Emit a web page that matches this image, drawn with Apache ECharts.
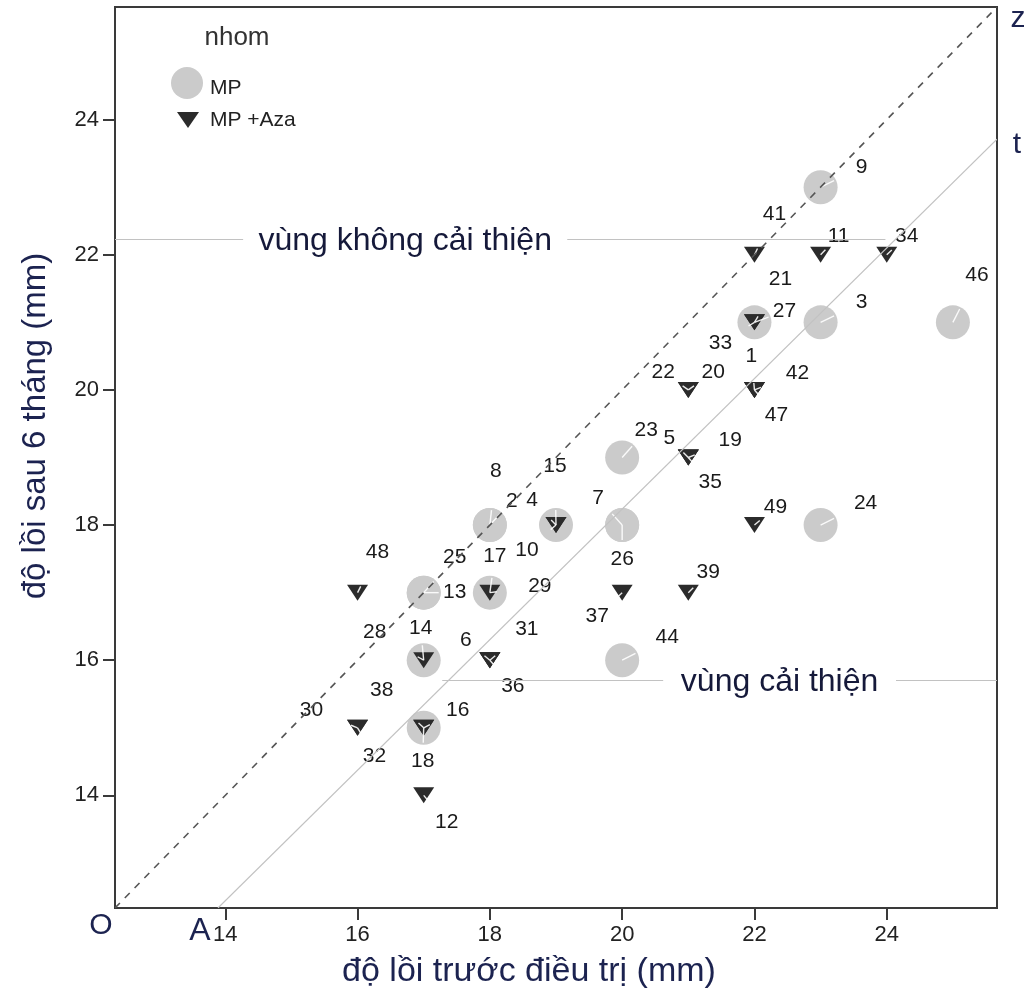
<!DOCTYPE html>
<html>
<head>
<meta charset="utf-8">
<script src="https://cdn.jsdelivr.net/npm/echarts@6/dist/echarts.min.js"></script>
<style>
  html, body { margin: 0; padding: 0; background: #ffffff; }
  #chart { width: 1029px; height: 995px; }
</style>
</head>
<body>
<div id="chart"></div>
<script>
// Patients treated with MP alone: id, protrusion before treatment, after 6 months (mm)
const mpIds    = [9, 27, 3, 46, 23, 8, 2, 15, 7, 26, 24, 25, 13, 17, 14, 18, 44];
const mpBefore = [23, 22, 23, 25, 20, 18, 18, 19, 20, 20, 23, 17, 17, 18, 17, 17, 20];
const mpAfter  = [23, 21, 21, 21, 19, 18, 18, 18, 18, 18, 18, 17, 17, 17, 16, 15, 16];

// Patients treated with MP + Aza
const azaIds    = [41, 11, 34, 21, 33, 1, 42, 47, 22, 20, 5, 19, 35, 4, 10, 49, 39, 37, 48, 29, 6, 31, 36, 28, 16, 38, 30, 32, 12];
const azaBefore = [22, 23, 24, 22, 22, 22, 22, 22, 21, 21, 21, 21, 21, 19, 19, 22, 21, 20, 16, 18, 18, 18, 18, 17, 17, 17, 16, 16, 17];
const azaAfter  = [22, 22, 22, 21, 21, 20, 20, 20, 20, 20, 19, 19, 19, 18, 18, 18, 17, 17, 17, 17, 16, 16, 16, 16, 15, 15, 15, 15, 14];

const groupNames = ['MP', 'MP +Aza'];
const tickValues = [14, 16, 18, 20, 22, 24];

// Axis extent and the guide lines (data units)
const axisMin = 12.3333, axisMax = 25.6667;
const noImproveLevel = 22.23;
const improveLevel = 15.71;
const noImproveSegs = [[axisMin, 14.27], [19.17, 23.98]];
const improveSegs = [[17.28, 20.62], [24.14, axisMax]];
const lineTStart = [13.89, axisMin];
const lineTEnd = [axisMax, 23.71];

// Where each ID label sits relative to its marker (px)
const labelShift = {
  9: [41, -20], 41: [20, -41], 11: [18, -19], 34: [20, -19], 21: [26, -43], 27: [30, -11],
  33: [-34, 21], 1: [-3, -34], 42: [43, -17], 47: [22, 25], 3: [41, -20], 46: [24, -47],
  22: [-25, -18], 20: [25, -18], 23: [24, -27], 5: [-19, -19], 19: [42, -17], 35: [22, 25],
  8: [6, -54], 2: [22, -24], 15: [-1, -59], 4: [-24, -25], 10: [-29, 25], 7: [-24, -27],
  26: [0, 34], 24: [45, -22], 49: [21, -18], 39: [20, -20], 37: [-25, 24], 48: [20, -40],
  25: [31, -35], 13: [31, 0], 17: [5, -36], 29: [50, -6], 6: [-24, -20], 31: [37, -31],
  36: [23, 26], 14: [-3, -32], 28: [-49, -28], 38: [-42, -38], 16: [34, -18], 18: [-1, 33],
  30: [-46, -18], 32: [17, 28], 12: [23, 27], 44: [45, -23]
};

const FONT = "'Liberation Sans', Arial, sans-serif";
const NAVY = '#1c2350';
const TRI = 'path://M0,0L20,0L10,16Z';

function points(ids, xs, ys) {
  return ids.map((id, i) => ({
    value: [xs[i], ys[i]],
    name: String(id),
    label: { offset: labelShift[id] }
  }));
}

const leaderData = []
  .concat(mpIds.map((id, i) => [mpBefore[i], mpAfter[i], id, 0]))
  .concat(azaIds.map((id, i) => [azaBefore[i], azaAfter[i], id, 1]));

const pointLabel = {
  show: true,
  position: 'inside',
  formatter: '{b}',
  color: '#1a1a1a',
  fontSize: 21,
  fontFamily: FONT
};

const chart = echarts.init(document.getElementById('chart'), null, { renderer: 'canvas' });

const option = {
  animation: false,
  backgroundColor: '#ffffff',
  grid: {
    left: 115, right: 32, top: 7, bottom: 87,
    show: true, borderColor: '#3a3a3a', borderWidth: 2, backgroundColor: 'transparent'
  },
  xAxis: {
    type: 'value', min: axisMin, max: axisMax,
    axisLine: { show: true, lineStyle: { color: '#3a3a3a', width: 2 } },
    axisTick: { show: true, length: 12, customValues: tickValues, lineStyle: { color: '#3a3a3a', width: 2 } },
    axisLabel: { customValues: tickValues, margin: 16, color: '#222', fontSize: 22, fontFamily: FONT },
    splitLine: { show: false }
  },
  yAxis: {
    type: 'value', min: axisMin, max: axisMax,
    axisLine: { show: true, lineStyle: { color: '#3a3a3a', width: 2 } },
    axisTick: { show: true, length: 12, customValues: tickValues, lineStyle: { color: '#3a3a3a', width: 2 } },
    axisLabel: { customValues: tickValues, margin: 16, color: '#222', fontSize: 22, fontFamily: FONT },
    splitLine: { show: false }
  },
  series: [
    {
      name: groupNames[0], type: 'scatter', symbol: 'circle', symbolSize: 34, z: 2,
      itemStyle: { color: '#cbcbcb', opacity: 1 },
      label: pointLabel,
      data: points(mpIds, mpBefore, mpAfter)
    },
    {
      name: groupNames[1], type: 'scatter', symbol: TRI, symbolSize: [21, 16], z: 3,
      itemStyle: { color: '#2b2b2b', opacity: 1 },
      label: pointLabel,
      data: points(azaIds, azaBefore, azaAfter)
    },
    {
      // short white leader strokes from each marker toward its ID label
      type: 'custom', z: 4, silent: true,
      data: leaderData,
      renderItem: function (params, api) {
        const c = api.coord([api.value(0), api.value(1)]);
        const sh = labelShift[api.value(2)];
        const d = Math.hypot(sh[0], sh[1]) || 1;
        const r = api.value(3) === 0 ? 15 : 7;
        return {
          type: 'line',
          shape: { x1: c[0], y1: c[1], x2: c[0] + sh[0] / d * r, y2: c[1] + sh[1] / d * r },
          style: { stroke: '#ffffff', lineWidth: 1.4, opacity: 0.9 }
        };
      }
    },
    {
      type: 'lines', coordinateSystem: 'cartesian2d', z: 5, silent: true,
      data: [
        { coords: [[axisMin, axisMin], [axisMax, axisMax]], lineStyle: { color: '#555', width: 1.6, type: [7, 7], opacity: 1 } },
        { coords: [lineTStart, lineTEnd], lineStyle: { color: '#c2c2c2', width: 1.2, opacity: 1 } },
        { coords: [[noImproveSegs[0][0], noImproveLevel], [noImproveSegs[0][1], noImproveLevel]], lineStyle: { color: '#c2c2c2', width: 1.2, opacity: 1 } },
        { coords: [[noImproveSegs[1][0], noImproveLevel], [noImproveSegs[1][1], noImproveLevel]], lineStyle: { color: '#c2c2c2', width: 1.2, opacity: 1 } },
        { coords: [[improveSegs[0][0], improveLevel], [improveSegs[0][1], improveLevel]], lineStyle: { color: '#c2c2c2', width: 1.2, opacity: 1 } },
        { coords: [[improveSegs[1][0], improveLevel], [improveSegs[1][1], improveLevel]], lineStyle: { color: '#c2c2c2', width: 1.2, opacity: 1 } }
      ]
    }
  ]
};

chart.setOption(option);

// Annotations placed from the axis scales
const px = (x, y) => chart.convertToPixel({ gridIndex: 0 }, [x, y]);
const pO = px(axisMin, axisMin);
const pZ = px(axisMax, axisMax);
const pA = px(lineTStart[0], lineTStart[1]);
const pT = px(lineTEnd[0], lineTEnd[1]);
const pNo = px((noImproveSegs[0][1] + noImproveSegs[1][0]) / 2, noImproveLevel);
const pYes = px((improveSegs[0][1] + improveSegs[1][0]) / 2, improveLevel);

function txt(text, x, y, size, color, extra) {
  return Object.assign({
    type: 'text', x: x, y: y, silent: true, z: 10,
    style: Object.assign({
      text: text, fill: color, font: size + 'px ' + FONT,
      textAlign: 'center', textVerticalAlign: 'middle'
    }, (extra && extra.style) || {})
  }, extra && extra.rotation !== undefined ? { rotation: extra.rotation } : {});
}

chart.setOption({
  graphic: [
    // legend
    txt('nhom', 237, 38, 26, '#333'),
    { type: 'circle', shape: { cx: 187, cy: 83, r: 16 }, style: { fill: '#cbcbcb' }, silent: true, z: 10 },
    txt(groupNames[0], 210, 88, 21, '#222', { style: { textAlign: 'left' } }),
    { type: 'polygon', shape: { points: [[177, 112], [199, 112], [188, 128]] }, style: { fill: '#2b2b2b' }, silent: true, z: 10 },
    txt(groupNames[1], 210, 120, 21, '#222', { style: { textAlign: 'left' } }),
    // region captions
    txt('vùng không cải thiện', pNo[0], pNo[1] + 2, 32, '#15193a'),
    txt('vùng cải thiện', pYes[0], pYes[1] + 2, 32, '#15193a'),
    // line end letters
    txt('O', pO[0] - 14, pO[1] + 18, 30, NAVY),
    txt('A', pA[0] - 18, pA[1] + 23, 32, NAVY),
    txt('z', pZ[0] + 21, pZ[1] + 12, 30, NAVY),
    txt('t', pT[0] + 20, pT[1] + 6, 30, NAVY),
    // axis titles
    txt('độ lồi trước điều trị (mm)', 529, 972, 34, NAVY),
    txt('độ lồi sau 6 tháng (mm)', 36, 426, 33, NAVY, { rotation: Math.PI / 2 })
  ]
});
</script>
</body>
</html>
